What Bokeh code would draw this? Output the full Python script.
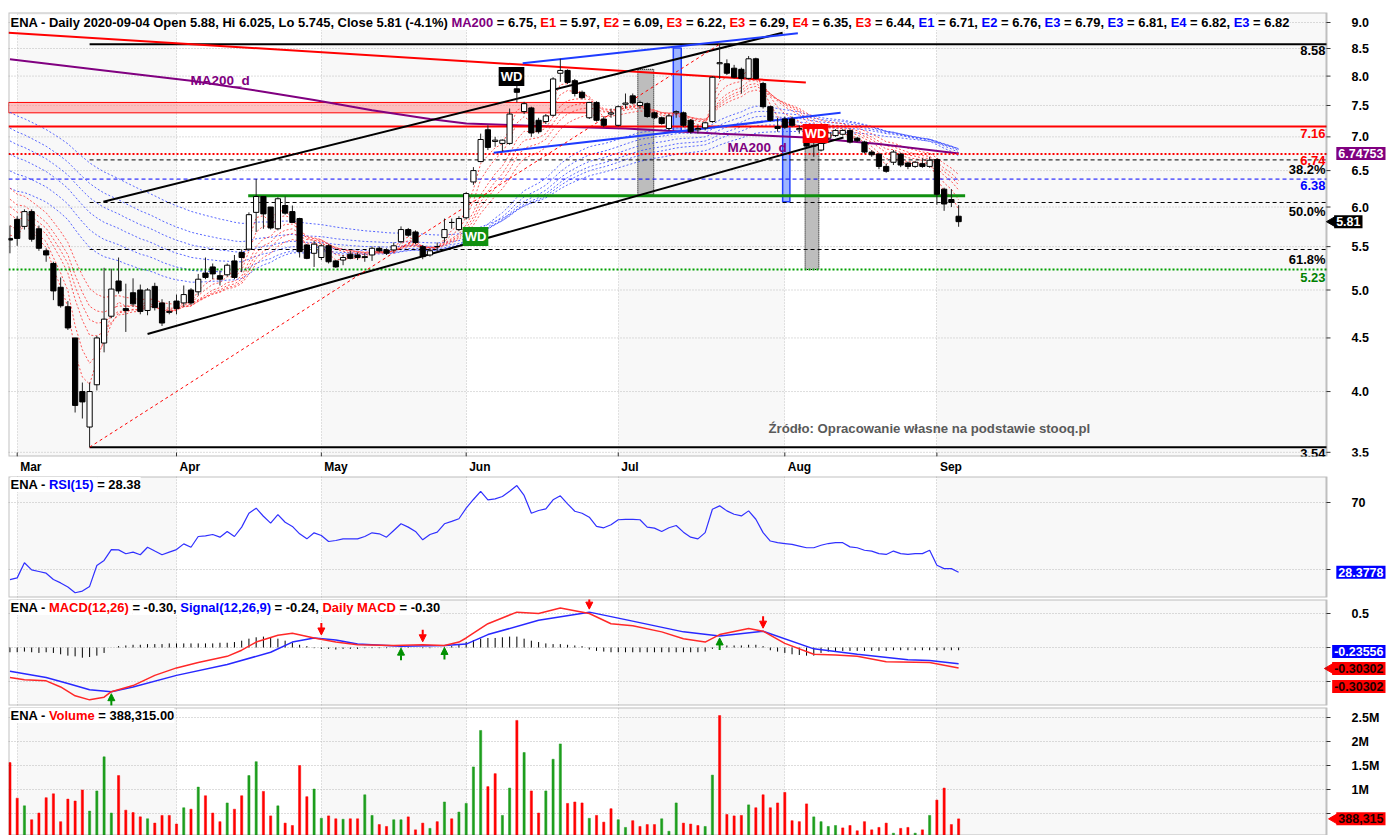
import math, glob
from bokeh.plotting import figure
from bokeh.layouts import column
from bokeh.models import (Range1d, FixedTicker, Label, BoxAnnotation, Grid, Arrow, NormalHead)
from bokeh.embed import file_html
from bokeh.resources import INLINE

# ======================= DATA =======================
month_idx = [1, 23, 43, 63, 84, 107, 128]
month_names = ["Mar", "Apr", "May", "Jun", "Jul", "Aug", "Sep"]

opens = [5.60, 5.84, 5.75, 5.94, 5.72, 5.45, 5.30, 5.03, 4.82, 4.50,
         4.00, 3.70, 4.06, 4.45, 4.72, 5.10, 4.80, 4.97, 5.00, 4.78,
         5.04, 4.86, 4.76, 4.88, 4.86, 5.00, 4.98, 5.19, 5.26, 5.16,
         5.17, 5.33, 5.43, 5.47, 5.93, 6.14, 6.00, 5.72, 6.02, 5.94,
         5.85, 5.52, 5.42, 5.37, 5.51, 5.33, 5.34, 5.41, 5.40, 5.38,
         5.40, 5.48, 5.46, 5.46, 5.56, 5.71, 5.68, 5.50, 5.40, 5.50,
         5.61, 5.80, 5.71, 5.86, 6.34, 6.63, 7.11, 6.93, 6.90, 6.90,
         7.78, 7.40, 7.46, 7.26, 7.24, 7.34, 8.05, 8.10, 7.92, 7.72,
         7.30, 7.55, 7.28, 7.36, 7.18, 7.52, 7.66, 7.50, 7.53, 7.38,
         7.30, 7.13, 7.38, 7.38, 7.26, 7.11, 7.14, 7.24, 8.22, 8.22,
         8.14, 8.12, 7.96, 8.31, 7.87, 7.48, 7.16, 7.28, 7.28, 7.11,
         6.98, 6.86, 6.80, 6.98, 7.02, 7.04, 7.10, 6.98, 6.92, 6.77,
         6.74, 6.56, 6.62, 6.74, 6.61, 6.56, 6.60, 6.56, 6.66, 6.24,
         6.10, 5.88]
highs = [5.76, 5.88, 5.97, 5.97, 5.76, 5.48, 5.32, 5.14, 4.88, 4.50,
         4.08, 4.08, 4.52, 5.25, 5.24, 5.37, 5.07, 5.13, 5.06, 5.02,
         5.08, 4.90, 4.88, 4.95, 5.05, 5.02, 5.18, 5.37, 5.30, 5.22,
         5.30, 5.40, 5.47, 5.93, 6.38, 6.14, 6.00, 6.13, 6.14, 6.02,
         5.86, 5.53, 5.57, 5.53, 5.53, 5.34, 5.40, 5.45, 5.43, 5.42,
         5.50, 5.50, 5.48, 5.55, 5.75, 5.73, 5.70, 5.52, 5.48, 5.55,
         5.85, 5.85, 5.88, 6.20, 6.55, 7.05, 7.18, 7.00, 6.96, 7.45,
         7.85, 7.56, 7.48, 7.30, 7.36, 7.98, 8.31, 8.12, 7.95, 7.75,
         7.56, 7.57, 7.32, 7.45, 7.50, 7.70, 7.70, 7.58, 7.55, 7.40,
         7.32, 7.36, 7.42, 7.40, 7.28, 7.18, 7.24, 8.00, 8.58, 8.30,
         8.20, 8.15, 8.36, 8.33, 7.90, 7.50, 7.30, 7.32, 7.32, 7.18,
         7.10, 6.92, 6.92, 7.08, 7.12, 7.12, 7.12, 7.00, 6.94, 6.80,
         6.76, 6.60, 6.80, 6.76, 6.63, 6.64, 6.68, 6.70, 6.68, 6.26,
         6.24, 6.025]
lows = [5.42, 5.51, 5.71, 5.56, 5.45, 5.32, 4.89, 4.81, 4.58, 3.82,
        3.77, 3.54, 4.01, 4.36, 4.70, 4.96, 4.56, 4.82, 4.74, 4.73,
        4.78, 4.62, 4.74, 4.74, 4.82, 4.84, 4.94, 5.12, 5.12, 5.05,
        5.15, 5.12, 5.20, 5.45, 5.68, 5.72, 5.71, 5.70, 5.90, 5.80,
        5.37, 5.35, 5.26, 5.34, 5.30, 5.25, 5.28, 5.35, 5.34, 5.32,
        5.33, 5.43, 5.40, 5.44, 5.54, 5.62, 5.53, 5.35, 5.38, 5.44,
        5.55, 5.72, 5.69, 5.84, 6.30, 6.62, 6.80, 6.85, 6.78, 6.88,
        7.55, 7.36, 7.00, 7.05, 7.20, 7.32, 7.90, 7.86, 7.65, 7.60,
        7.28, 7.24, 7.15, 7.30, 7.16, 7.45, 7.52, 7.45, 7.30, 7.28,
        7.19, 7.10, 7.30, 7.15, 7.05, 7.05, 7.10, 7.22, 7.95, 8.02,
        7.96, 7.70, 7.94, 7.94, 7.45, 7.24, 7.08, 7.12, 7.15, 7.05,
        6.85, 6.70, 6.78, 6.95, 7.00, 7.02, 6.90, 6.92, 6.75, 6.70,
        6.52, 6.47, 6.58, 6.55, 6.52, 6.54, 6.54, 6.54, 6.03, 5.95,
        6.00, 5.745]
closes = [5.58, 5.60, 5.94, 5.59, 5.48, 5.40, 4.99, 4.83, 4.60, 3.88,
          3.91, 4.00, 4.50, 4.69, 5.01, 4.99, 4.78, 4.85, 4.77, 5.00,
          4.81, 4.65, 4.77, 4.80, 4.95, 4.86, 5.12, 5.14, 5.18, 5.12,
          5.28, 5.14, 5.37, 5.90, 6.14, 5.91, 5.73, 6.11, 5.92, 5.80,
          5.44, 5.36, 5.53, 5.51, 5.32, 5.26, 5.37, 5.36, 5.37, 5.37,
          5.48, 5.45, 5.42, 5.51, 5.71, 5.64, 5.55, 5.38, 5.45, 5.50,
          5.71, 5.80, 5.85, 6.18, 6.50, 6.96, 6.84, 6.95, 6.95, 7.36,
          7.72, 7.53, 7.06, 7.08, 7.33, 7.95, 8.10, 7.89, 7.70, 7.63,
          7.55, 7.26, 7.18, 7.38, 7.48, 7.54, 7.54, 7.55, 7.32, 7.30,
          7.21, 7.33, 7.40, 7.18, 7.08, 7.13, 7.22, 7.98, 8.24, 8.05,
          7.98, 7.96, 8.31, 7.96, 7.48, 7.26, 7.13, 7.15, 7.18, 7.13,
          6.86, 6.87, 6.90, 7.06, 7.10, 7.10, 6.92, 6.94, 6.77, 6.73,
          6.56, 6.49, 6.77, 6.58, 6.56, 6.62, 6.56, 6.65, 6.17, 6.04,
          6.06, 5.81]
volumes_m = [1.56, 0.82, 0.66, 0.37, 0.51, 0.83, 0.91, 0.33, 0.80, 0.76,
             0.99, 0.55, 0.97, 1.68, 0.51, 1.29, 0.57, 0.52, 0.43, 0.39,
             0.30, 0.46, 0.46, 0.28, 0.62, 0.59, 1.05, 0.87, 0.51, 0.33,
             0.72, 0.59, 0.87, 1.29, 1.58, 0.96, 0.45, 0.66, 0.30, 0.25,
             1.50, 0.85, 1.01, 0.40, 0.45, 0.39, 0.38, 0.39, 0.39, 0.89,
             0.46, 0.27, 0.23, 0.37, 0.37, 0.43, 0.16, 0.30, 0.19, 0.33,
             0.74, 0.39, 0.53, 0.71, 1.47, 2.23, 1.06, 1.33, 0.46, 1.03,
             2.44, 1.77, 0.97, 0.51, 0.97, 1.63, 1.95, 0.71, 0.74, 0.72,
             0.40, 0.46, 0.32, 0.60, 0.37, 0.21, 0.35, 0.23, 0.27, 0.27,
             0.39, 0.13, 0.72, 0.30, 0.28, 0.25, 0.23, 1.30, 2.54, 0.48,
             0.45, 0.46, 0.68, 0.62, 0.89, 0.62, 0.72, 0.94, 0.35, 0.33,
             0.70, 0.43, 0.33, 0.23, 0.25, 0.20, 0.25, 0.14, 0.33, 0.16,
             0.21, 0.30, 0.09, 0.19, 0.21, 0.09, 0.16, 0.46, 0.78, 1.03,
             0.27, 0.388315]
vol_up = [0, 0, 1, 0, 0, 0, 0, 0, 0, 0,
          0, 1, 1, 1, 1, 0, 0, 0, 0, 1,
          0, 0, 0, 0, 1, 0, 1, 0, 0, 0,
          1, 0, 0, 1, 1, 0, 0, 1, 0, 0,
          0, 0, 1, 1, 0, 0, 1, 0, 0, 1,
          1, 0, 0, 1, 1, 0, 0, 0, 1, 0,
          1, 0, 1, 1, 1, 1, 0, 0, 1, 1,
          0, 1, 0, 0, 1, 1, 1, 0, 0, 0,
          1, 0, 0, 0, 1, 1, 0, 0, 0, 0,
          1, 1, 1, 0, 0, 0, 1, 1, 0, 0,
          0, 0, 1, 0, 0, 0, 0, 0, 0, 0,
          0, 1, 1, 1, 1, 0, 0, 0, 0, 0,
          0, 0, 1, 0, 0, 1, 0, 1, 0, 0,
          0, 0]
rsi_vals = [24.0, 25.0, 34.0, 29.8, 28.8, 27.8, 24.0, 22.0, 19.5, 16.1,
            17.1, 19.9, 32.4, 35.4, 41.9, 41.7, 39.4, 40.4, 38.8, 43.3,
            41.0, 38.8, 40.4, 41.9, 45.3, 43.3, 49.7, 50.1, 50.9, 49.3,
            52.7, 49.7, 55.3, 63.6, 66.6, 61.8, 57.7, 62.8, 58.2, 55.7,
            51.3, 48.3, 51.9, 50.3, 46.7, 47.3, 48.3, 48.3, 48.3, 49.7,
            51.9, 51.3, 49.3, 53.3, 57.3, 55.3, 52.7, 47.7, 50.9, 52.3,
            57.3, 58.7, 60.3, 66.6, 71.8, 76.7, 71.6, 72.2, 73.6, 76.7,
            80.1, 74.2, 63.6, 65.2, 66.2, 71.6, 74.0, 69.2, 64.8, 63.6,
            61.2, 55.7, 54.9, 56.7, 59.7, 59.9, 59.9, 59.7, 55.3, 54.7,
            52.7, 54.9, 56.3, 52.3, 49.3, 48.3, 52.0, 66.0, 68.0, 65.0,
            63.0, 62.0, 65.0, 60.0, 52.0, 47.0, 46.0, 45.5, 45.0, 44.0,
            43.0, 43.0, 44.5, 45.5, 46.0, 46.0, 43.5, 43.0, 41.5, 41.0,
            39.5, 39.0, 41.0, 39.5, 39.0, 39.5, 39.5, 41.5, 32.5, 30.5,
            30.5, 28.38]
macd_idx = [0, 2, 5, 7, 9, 11, 13, 14, 17, 20, 23, 26, 30, 32, 34, 37, 39, 42, 45, 48,
            53, 57, 60, 62, 63, 66, 70, 73, 76, 80, 83, 86, 90, 93, 96, 98, 102, 104, 107,
            111, 114, 117, 121, 127, 131]
macd_vals = [-0.44, -0.475, -0.49, -0.58, -0.71, -0.77, -0.73, -0.65, -0.56, -0.41, -0.30,
             -0.22, -0.13, -0.04, 0.08, 0.18, 0.21, 0.14, 0.08, 0.04, 0.03, 0.04, 0.03, 0.08,
             0.14, 0.35, 0.52, 0.50, 0.58, 0.50, 0.35, 0.32, 0.23, 0.13, 0.08, 0.19, 0.28,
             0.24, 0.06, -0.10, -0.11, -0.13, -0.21, -0.22, -0.30]
signal_idx = [0, 5, 8, 11, 14, 17, 23, 30, 36, 39, 42, 45, 48, 54, 60, 63, 66, 73, 80, 85,
              93, 98, 104, 111, 117, 124, 127, 131]
signal_vals = [-0.35, -0.44, -0.53, -0.62, -0.65, -0.58, -0.41, -0.25, -0.07, 0.08, 0.14,
               0.11, 0.05, 0.02, 0.03, 0.05, 0.19, 0.40, 0.52, 0.41, 0.23, 0.17, 0.24, -0.02,
               -0.10, -0.18, -0.19, -0.24]
hist_vals = ([-0.07, -0.07, -0.06, -0.07, -0.08, -0.07, -0.08, -0.10, -0.12, -0.13, -0.15, -0.14, -0.12, -0.08]
             + [0.0]
             + [0.02, 0.03, 0.04, 0.04, 0.05, 0.05, 0.05, 0.06, 0.06, 0.06, 0.06, 0.06, 0.06, 0.06, 0.07, 0.07, 0.08]
             + [0.10, 0.13, 0.15, 0.16, 0.15, 0.13, 0.10, 0.07, 0.04, 0.02]
             + [-0.01, -0.02, -0.02, -0.03, -0.02, -0.02, -0.02, -0.01, -0.01, -0.01, -0.01, 0.0, 0.01, 0.01, 0.0, -0.01, -0.01, 0.0, 0.01]
             + [0.02, 0.05, 0.08, 0.11, 0.13, 0.14, 0.14, 0.15, 0.16, 0.16, 0.13, 0.10, 0.08, 0.06, 0.05, 0.05, 0.04, 0.03, 0.02]
             + [-0.03, -0.05, -0.06, -0.07, -0.07, -0.07, -0.07, -0.07, -0.07, -0.07, -0.07, -0.07, -0.07, -0.07, -0.07, -0.07, -0.06, -0.02]
             + [0.02, 0.03, 0.03, 0.03, 0.04, 0.04, 0.02]
             + [-0.04, -0.06, -0.08, -0.10, -0.11, -0.12, -0.12, -0.08, -0.06, -0.05, -0.05, -0.05, -0.05, -0.05,
                -0.05, -0.05, -0.05, -0.04, -0.04, -0.04, -0.04, -0.04, -0.04, -0.04, -0.04, -0.04, -0.04])
buy_idx = [14, 54, 60, 98]
buy_vals = [-0.65, 0.02, 0.03, 0.17]
sell_idx = [43, 57, 80, 104]
sell_vals = [0.14, 0.04, 0.52, 0.24]

ma200_idx = [0, 13, 25, 35, 42, 50, 58, 63, 75, 85, 98, 110, 120, 131]
ma200_vals = [8.30, 8.10, 7.92, 7.73, 7.59, 7.42, 7.28, 7.21, 7.16, 7.13, 7.05, 6.99, 6.89, 6.75]

ema_short_periods = [3, 5, 8, 10, 12, 15]
ema_short_seed = [5.70, 5.85, 6.00, 6.10, 6.20, 6.35]
ema_long_periods = [30, 35, 40, 45, 50, 60]
ema_long_seed = [6.30, 6.55, 6.80, 7.00, 7.20, 7.45]

swing_low_idx, swing_low = 11, 3.54
swing_high_idx, swing_high = 98, 8.58
fib_ratios = [0.382, 0.5, 0.618]
fib_names = ["38.2%", "50.0%", "61.8%"]
resist_level = 7.16
ma_level = 6.74
blue_level = 6.38
green_dot_level = 5.23
support_level, support_from, support_to = 6.15, 32.9, 131.9
band_lo, band_hi, band_to = 7.38, 7.55, 80.2
chan_x0 = [12.9, 19.0]; chan_p0 = [6.07, 4.54]; chan_x1 = [106.7, 115.1]; chan_p1 = [8.80, 6.99]
blue_x0 = [70.8, 66.8]; blue_p0 = [8.23, 6.76]; blue_x1 = [108.8, 114.7]; blue_p1 = [8.79, 7.38]
red_trend_x = [-0.2, 109.9]; red_trend_p = [8.80, 7.89]
blue_box_l = [91.6, 106.7]; blue_box_r = [92.7, 107.7]; blue_box_b = [7.08, 6.07]; blue_box_t = [8.51, 7.28]
grey_box_l = [86.7, 109.8]; grey_box_r = [88.9, 111.7]; grey_box_b = [6.16, 5.23]; grey_box_t = [8.12, 6.95]

price_ticks = [3.5, 4.0, 4.5, 5.0, 5.5, 6.0, 6.5, 7.0, 7.5, 8.0, 8.5, 9.0]
rsi_ticks = [30, 70]
macd_ticks = [-0.5, 0.0, 0.5]
vol_ticks = [0.5e6, 1.0e6, 1.5e6, 2.0e6, 2.5e6]
vol_tick_names = ["", "1M", "1.5M", "2M", "2.5M"]

hdr_ema_short = [("E1", 5.97), ("E2", 6.09), ("E3", 6.22), ("E3", 6.29), ("E4", 6.35), ("E3", 6.44)]
hdr_ema_long = [("E1", 6.71), ("E2", 6.76), ("E3", 6.79), ("E3", 6.81), ("E4", 6.82), ("E3", 6.82)]

# ======================= STYLE / LAYOUT =======================
RED, BLUE, PURPLE, GREEN = "#FF0000", "#0000FF", "#800080", "#008000"
LEFT = 8
FULL_W = 1378
PLOT_W = 1318
X0, X1 = -0.2, 181.8
PPB = PLOT_W / (X1 - X0)
XF = X0 + FULL_W / PPB
N = len(closes)
idx = list(range(N))

FONT = "Liberation Sans"
font_path = None
for pat in ["/usr/share/fonts/**/LiberationSans-Bold.ttf", "/usr/**/LiberationSans-Bold.ttf"]:
    hits = glob.glob(pat, recursive=True)
    if hits:
        font_path = hits[0]
        break
_pf = None
try:
    from PIL import ImageFont
    if font_path:
        _pf = ImageFont.truetype(font_path, 100)
except Exception:
    _pf = None


def tw(text, size):
    if _pf is not None:
        return _pf.getlength(text) * size / 100.0
    return len(text) * 0.56 * size


def xi(px):
    return X0 + (px - LEFT) / PPB


PX_LN = 455.1
def py(y): return 9.0 * math.exp(-(y - 22) / PX_LN)
def ry(y): return 70 - (y - 502) / 1.675
def my(y): return (647 - y) / 68.0
def vy(y): return 2.5e6 - (y - 717) / 24.0 * 0.5e6


def lab(p, x, y, text, color, size, align="left", baseline="middle", bg=None, style="bold", pad=0):
    kw = {}
    if bg is not None:
        kw = dict(background_fill_color=bg, background_fill_alpha=1.0)
        if pad:
            kw["padding"] = pad
    p.add_layout(Label(x=x, y=y, text=text, text_color=color, text_font=FONT,
                       text_font_size=f"{size:.2f}px", text_font_style=style,
                       text_align=align, text_baseline=baseline, **kw))


def make_fig(frame_h, ylo, yhi, ticks, tick_names, ytype="linear", xaxis=False, top=0, bottom=0):
    p = figure(frame_width=FULL_W, frame_height=frame_h, x_range=Range1d(X0, XF),
               y_range=Range1d(ylo, yhi), y_axis_type=ytype, y_axis_location=None,
               x_axis_location=("below" if xaxis else None),
               toolbar_location=None, output_backend="svg",
               min_border_left=LEFT, min_border_right=0, min_border_top=top, min_border_bottom=bottom)
    p.outline_line_color = None
    p.background_fill_color = "white"
    p.border_fill_color = "white"
    for g in p.ygrid:
        g.visible = False
    if len(p.xgrid):
        p.xgrid.ticker = FixedTicker(ticks=month_idx)
        grids = list(p.xgrid)
    else:
        g = Grid(dimension=0, ticker=FixedTicker(ticks=month_idx))
        p.add_layout(g)
        grids = [g]
    for g in grids:
        g.grid_line_color = "#BBBBBB"
        g.grid_line_dash = "1 2"
        g.visible = True
    for k in (0, 2, 4, 6):
        left = month_idx[k]
        right = month_idx[k + 1] if k + 1 < len(month_idx) else X1
        p.add_layout(BoxAnnotation(left=left, right=right, fill_color="#EBEBEB", fill_alpha=0.35,
                                   line_alpha=0, level="underlay"))
    p.segment(x0=[X0] * len(ticks), x1=[X1] * len(ticks), y0=ticks, y1=ticks,
              line_color="#BBBBBB", line_dash="1 2", line_width=1)
    p.add_layout(BoxAnnotation(left=X0, right=X1, fill_alpha=0, line_color="#333333", line_width=2))
    p.segment(x0=[X1] * len(ticks), x1=[X1 + 4 / PPB] * len(ticks), y0=ticks, y1=ticks,
              line_color="#333333", line_width=1)
    for t, nm in zip(ticks, tick_names):
        if nm:
            lab(p, X1 + 25 / PPB, t, nm, "black", 12.5)
    return p


def pieces_row(p, pieces, x_px, yval, size):
    x = x_px
    for txt, col in pieces:
        lab(p, xi(x), yval, txt, col, size, bg="white")
        x += tw(txt, size)


def value_box(p, yval, text, color, bg, right_px=1384, arrow=False):
    lab(p, xi(right_px), yval, text, color, 12.5, align="right", bg=bg, pad=2)
    if arrow:
        left_px = right_px - tw(text, 12.5) - 2
        p.scatter([xi(left_px - 4)], [yval], marker="triangle", size=10, angle=math.pi / 2,
                  fill_color=bg, line_color=bg)


hdr_price = [("ENA - Daily 2020-09-04 Open %.2f, Hi %.3f, Lo %.3f, Close %.2f (%.1f%%) "
              % (opens[-1], highs[-1], lows[-1], closes[-1], (closes[-1] / closes[-2] - 1) * 100), "black"),
             ("MA200 ", PURPLE), ("= %.2f, " % ma200_vals[-1], "black")]
for name, v in hdr_ema_short:
    hdr_price += [(name + " ", RED), ("= %.2f, " % v, "black")]
for k, (name, v) in enumerate(hdr_ema_long):
    hdr_price += [(name + " ", BLUE), (("= %.2f, " if k < len(hdr_ema_long) - 1 else "= %.2f") % v, "black")]
full = "".join(t for t, _ in hdr_price)
FS = 12.0 * 1279.0 / tw(full, 12.0)
FS = max(10.0, min(13.5, FS))

# ======================= PRICE PANEL =======================
PLO, PHI = 9.0 * math.exp(-434 / PX_LN), 9.0 * math.exp(10 / PX_LN)
pp = make_fig(444, PLO, PHI, price_ticks, ["%.1f" % t for t in price_ticks], ytype="log",
              xaxis=True, top=12, bottom=20)
xa = pp.xaxis[0]
shifted = [m + (3 + tw(nm, 12) / 2) / PPB for m, nm in zip(month_idx, month_names)]
xa.ticker = FixedTicker(ticks=shifted, minor_ticks=[])
xa.major_label_overrides = {t: nm for t, nm in zip(shifted, month_names)}
xa.axis_line_color = None
xa.major_tick_out = 0
xa.major_tick_in = 0
xa.minor_tick_out = 0
xa.major_label_standoff = 3
xa.major_label_text_font = FONT
xa.major_label_text_font_style = "bold"
xa.major_label_text_font_size = "12px"
xa.major_label_text_color = "black"
pp.segment(x0=month_idx, x1=month_idx, y0=[PLO] * len(month_idx),
           y1=[PLO * math.exp(4 / PX_LN)] * len(month_idx), line_color="#333333")

pp.quad(left=[X0], right=[band_to], bottom=[band_lo], top=[band_hi], fill_color="#FF9090",
        fill_alpha=0.55, line_color=RED, line_width=1)
pp.quad(left=grey_box_l, right=grey_box_r, bottom=grey_box_b, top=grey_box_t, fill_color="#BDBDBD",
        fill_alpha=1.0, line_color="black", line_dash="1 1", line_width=1)
pp.quad(left=blue_box_l, right=blue_box_r, bottom=blue_box_b, top=blue_box_t, fill_color="#9DB4FF",
        fill_alpha=1.0, line_color="#2040FF", line_width=1.5)


def ema(vals, n, seed):
    k = 2.0 / (n + 1)
    e = seed
    out = []
    for v in vals:
        e += k * (v - e)
        out.append(e)
    return out


for n, s in zip(ema_long_periods, ema_long_seed):
    pp.line(idx, ema(closes, n, s), line_color="#3A4BFF", line_dash="2 2", line_width=1, line_alpha=0.85)
for n, s in zip(ema_short_periods, ema_short_seed):
    pp.line(idx, ema(closes, n, s), line_color="#FF3A3A", line_dash="2 2", line_width=1, line_alpha=0.85)

pp.line(ma200_idx, ma200_vals, line_color=PURPLE, line_width=2)

pp.line([X0, X1], [resist_level] * 2, line_color=RED, line_width=2)
pp.line([X0, X1], [ma_level] * 2, line_color=RED, line_width=2, line_dash="2 2")
pp.line([X0, X1], [blue_level] * 2, line_color=BLUE, line_width=1, line_dash="4 3")
pp.line([X0, X1], [green_dot_level] * 2, line_color="#00A000", line_width=2, line_dash="2 2")
pp.line([swing_low_idx, X1], [swing_high] * 2, line_color="black", line_width=2)
pp.line([swing_low_idx, X1], [swing_low] * 2, line_color="black", line_width=2)
fib_levels = [swing_high - r * (swing_high - swing_low) for r in fib_ratios]
for lv in fib_levels:
    pp.line([swing_low_idx, X1], [lv, lv], line_color="black", line_width=1, line_dash="4 3")
pp.line([support_from, support_to], [support_level] * 2, line_color="#109010", line_width=3)

pp.line(red_trend_x, red_trend_p, line_color=RED, line_width=2)
pp.segment(x0=chan_x0, y0=chan_p0, x1=chan_x1, y1=chan_p1, line_color="black", line_width=2)
pp.segment(x0=blue_x0, y0=blue_p0, x1=blue_x1, y1=blue_p1, line_color="#1E3CFF", line_width=2)
pp.line([swing_low_idx, swing_high_idx], [swing_low, swing_high], line_color=RED, line_width=1, line_dash="3 3")

pp.segment(x0=idx, y0=lows, x1=idx, y1=highs, line_color="#222222", line_width=1)
up_i = [i for i in idx if closes[i] >= opens[i]]
dn_i = [i for i in idx if closes[i] < opens[i]]
pp.vbar(x=up_i, width=0.72, bottom=[opens[i] for i in up_i], top=[closes[i] for i in up_i],
        fill_color="white", line_color="black", line_width=1)
pp.vbar(x=dn_i, width=0.72, bottom=[closes[i] for i in dn_i], top=[opens[i] for i in dn_i],
        fill_color="black", line_color="black", line_width=1)

pieces_row(pp, hdr_price, 10, py(22), FS)
lab(pp, xi(190), py(80), "MA200_d", PURPLE, 13.5)
lab(pp, xi(727), py(147), "MA200_d", PURPLE, 13.5)
lab(pp, xi(511), py(76), "WD", "white", 13, align="center", bg="black", pad=2)
lab(pp, xi(475), py(236), "WD", "white", 13, align="center", bg="#109010", pad=2)
lab(pp, xi(815), py(133), "WD", "white", 13, align="center", bg="#FF0000", pad=2)
src_txt = "Źródło: Opracowanie własne na podstawie stooq.pl"
lab(pp, xi(768), py(428), src_txt, "#5A5A5A", 12.0 * 322.0 / tw(src_txt, 12.0))


def below(price, px):
    return price * math.exp(-px / PX_LN)


xr = xi(1325)
lab(pp, xr, below(swing_high, 2), "%.2f" % swing_high, "black", FS, align="right", baseline="top")
lab(pp, xr, below(resist_level, 2), "%.2f" % resist_level, RED, FS, align="right", baseline="top")
for lv, nm in zip(fib_levels, fib_names):
    lab(pp, xr, below(lv, 2), nm, "black", FS, align="right", baseline="top")
lab(pp, xr, below(ma_level, 2), "%.2f" % ma_level, RED, FS, align="right", baseline="top")
lab(pp, xr, below(blue_level, 2), "%.2f" % blue_level, BLUE, FS, align="right", baseline="top")
lab(pp, xr, below(green_dot_level, 3), "%.2f" % green_dot_level, GREEN, FS, align="right", baseline="top")
lab(pp, xr, below(swing_low, 2), "%.2f" % swing_low, "black", FS, align="right", baseline="top")
value_box(pp, ma200_vals[-1], "6.74753", "white", PURPLE, right_px=1385)
value_box(pp, closes[-1], "%.2f" % closes[-1], "white", "black", right_px=1362, arrow=True)

# ======================= RSI PANEL =======================
pr = make_fig(121, ry(597), ry(476), rsi_ticks, ["", "70"], bottom=2)
pr.line(idx, rsi_vals, line_color="#3030FF", line_width=1.2)
pieces_row(pr, [("ENA - ", "black"), ("RSI(15) ", BLUE), ("= %.2f" % rsi_vals[-1], "black")], 10, ry(484), FS)
value_box(pr, rsi_vals[-1], "28.3778", "white", BLUE, right_px=1385)

# ======================= MACD PANEL =======================
pm = make_fig(106, my(705), my(599), macd_ticks, ["", "", "0.5"], bottom=2)
pm.segment(x0=idx, y0=[0] * N, x1=idx, y1=hist_vals, line_color="black", line_width=1)
pm.line(signal_idx, signal_vals, line_color="#2828FF", line_width=1.5)
pm.line(macd_idx, macd_vals, line_color="#FF2828", line_width=1.5)
AL = 12 / 68.0
for i, v in zip(sell_idx, sell_vals):
    tip = v + 3 / 68.0
    pm.add_layout(Arrow(end=NormalHead(size=7, fill_color=RED, line_color=RED), x_start=i, y_start=tip + AL,
                        x_end=i, y_end=tip, line_color=RED, line_width=2))
for i, v in zip(buy_idx, buy_vals):
    tip = v - 2 / 68.0
    pm.add_layout(Arrow(end=NormalHead(size=7, fill_color="#009000", line_color="#009000"), x_start=i,
                        y_start=tip - AL, x_end=i, y_end=tip, line_color="#009000", line_width=2))
pieces_row(pm, [("ENA - ", "black"), ("MACD(12,26) ", RED), ("= %.2f, " % macd_vals[-1], "black"),
                ("Signal(12,26,9) ", BLUE), ("= %.2f, " % signal_vals[-1], "black"),
                ("Daily MACD ", RED), ("= %.2f" % macd_vals[-1], "black")], 10, my(607), FS)
value_box(pm, my(651), "-0.23556", "white", BLUE, right_px=1385)
value_box(pm, my(668), "-0.30302", "#1A0000", RED, right_px=1385, arrow=True)
value_box(pm, my(686), "-0.30302", "#1A0000", RED, right_px=1385)

# ======================= VOLUME PANEL =======================
pv = make_fig(128, vy(835), vy(707), vol_ticks, vol_tick_names, bottom=0)
vols = [v * 1e6 for v in volumes_m]
vcol = ["#1E9E1E" if u else "#FF0000" for u in vol_up]
pv.vbar(x=idx, width=0.3, bottom=0, top=vols, fill_color=vcol, line_color=vcol, line_width=0.5)
pieces_row(pv, [("ENA - ", "black"), ("Volume ", RED), ("= {:,.2f}".format(vols[-1]), "black")], 10, vy(715), FS)
value_box(pv, vols[-1], "{:,.0f}".format(vols[-1]), "#1A0000", RED, right_px=1385, arrow=True)

layout = column(pp, pr, pm, pv, spacing=0)
open("out.html", "w").write(file_html(layout, INLINE))
